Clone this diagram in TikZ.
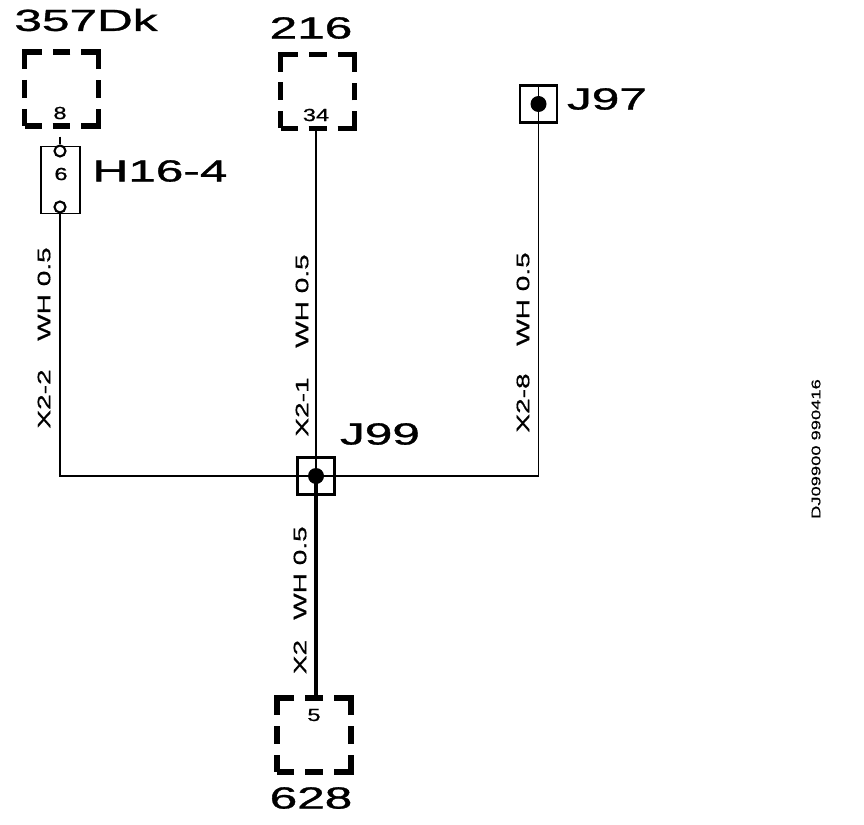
\documentclass[tikz,border=0pt]{standalone}
\usepackage{fontspec}
\setmainfont{Liberation Sans}
\newfontfamily\heavyfont[FakeBold=0.9]{Liberation Sans}
\newfontfamily\midfont[FakeBold=0.6]{Liberation Sans}
\begin{document}
\begin{tikzpicture}[
        x=0.02cm, y=-0.02cm,
        conn/.style={draw, line width=3pt, minimum size=1.48cm, inner sep=0pt,
            dash pattern=on 0.68cm off 0.22cm on 0.36cm off 0.22cm, dash phase=0.34cm},
        splice/.style={draw, line width=1.4pt, minimum size=0.74cm, inner sep=0pt},
        dot/.style={circle, fill, minimum size=0.32cm, inner sep=0pt},
        pinhole/.style={circle, draw, fill=white, line width=1.2pt, minimum size=0.22cm, inner sep=0pt},
        holder/.style={draw, line width=1pt, minimum width=0.78cm, minimum height=1.34cm, inner sep=0pt},
        bigname/.style={font=\heavyfont\fontsize{17.4}{20}\selectfont, xscale=1.62, inner sep=0pt},
        pinno/.style={font=\midfont\fontsize{10}{12}\selectfont, xscale=1.35, inner sep=0pt},
        wirename/.style={font=\midfont\fontsize{10.3}{12}\selectfont, rotate=90, xscale=1.55, inner sep=0pt},
        stamp/.style={font=\midfont\fontsize{7.2}{9}\selectfont, rotate=90, xscale=1.45, inner sep=0pt},
        wire/.style={line width=0.9pt},
        heavywire/.style={line width=1.3pt},
        lowerwire/.style={line width=1.9pt},
    ]
    \useasboundingbox (0, 0) rectangle (864, 824);

    \node[conn] (c357) at (61.5, 89) {};
    \node[conn] (c216) at (317.5, 91.5) {};
    \node[conn] (c628) at (314, 735) {};
    \node[holder] (h16) at (60.5, 180) {};
    \node[splice] (j97) at (538.5, 104) {};
    \node[splice] (j99) at (316, 476) {};

    \node[pinhole] (h16a) at (60, 151) {};
    \node[pinhole] (h16b) at (60, 207) {};

    \draw[wire, shorten <=0.16cm] (c357.south -| h16a) -- (h16a);
    \draw[wire] (c216.south -| j99) -- (j99.center);
    \draw[heavywire] (h16b) |- (j99.center);
    \draw[wire] (j97.north) |- (j99.center);
    \draw[lowerwire] (j99.center) -- (c628.north -| j99);

    \node[dot] (d97) at (j97) {};
    \node[dot] (d99) at (j99) {};

    \node[pinno] (p8) at (60, 113) {8};
    \node[pinno] (p34) at (316, 115) {34};
    \node[pinno] (p5) at (314, 715) {5};
    \node[pinno] (p6) at (61, 174) {6};

    \node[bigname] (n357) at (86, 20) {357Dk};
    \node[bigname] (n216) at (311, 28) {216};
    \node[bigname] (n628) at (311, 798) {628};
    \node[bigname] (n97) at (607, 99) {J97};
    \node[bigname] (n99) at (380, 434) {J99};
    \node[bigname] (n16) at (160, 171) {H16-4};

    \node[wirename] (w1) at (44, 294) {WH 0.5};
    \node[wirename] (x1) at (44, 399) {X2-2};
    \node[wirename] (w2) at (302, 301) {WH 0.5};
    \node[wirename] (x2) at (302, 407) {X2-1};
    \node[wirename] (w3) at (523, 299) {WH 0.5};
    \node[wirename] (x3) at (523, 403) {X2-8};
    \node[wirename] (w4) at (300, 573) {WH 0.5};
    \node[wirename] (x4) at (300, 657) {X2};

    \node[stamp] (dj) at (816, 449) {DJ09900 990416};
\end{tikzpicture}
\end{document}
